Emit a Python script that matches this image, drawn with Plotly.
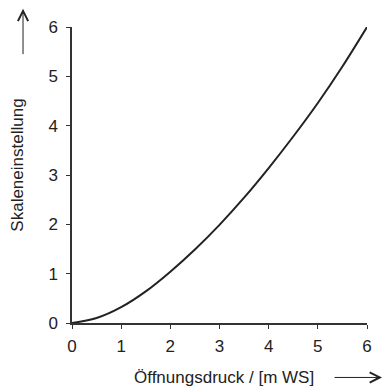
import plotly.graph_objects as go

# Data
pressure = [0, 0.5, 1, 1.5, 2, 2.5, 3, 3.5, 4, 4.5, 5, 5.5, 6]
scale_setting = [0, 0.10, 0.32, 0.64, 1.04, 1.49, 1.99, 2.54, 3.14, 3.78, 4.46, 5.20, 6.0]
tick_vals = [0, 1, 2, 3, 4, 5, 6]
tick_text = ["0", "1", "2", "3", "4", "5", "6"]

x_title = "Öffnungsdruck / [m WS]"
y_title = "Skaleneinstellung"

FONT = "Liberation Sans, Arial, sans-serif"
INK = "#222222"

fig = go.Figure()
fig.add_trace(go.Scatter(
    x=pressure, y=scale_setting, mode="lines",
    line=dict(color=INK, width=2, shape="spline", smoothing=1.0),
    showlegend=False, hoverinfo="skip",
))

axis_common = dict(
    showgrid=False, zeroline=False, showline=True, linecolor="#333333", linewidth=1.5,
    ticks="outside", ticklen=4, tickwidth=1, tickcolor="#333333",
    tickvals=tick_vals, ticktext=tick_text,
    tickfont=dict(family=FONT, size=17, color=INK),
    range=[0, 6], fixedrange=True,
)

fig.update_layout(
    width=386, height=389,
    margin=dict(l=72, r=19, t=27, b=66),
    paper_bgcolor="white", plot_bgcolor="white",
    font=dict(family=FONT, color=INK),
    xaxis=dict(**axis_common, ticklabelstandoff=3),
    yaxis=dict(**axis_common, ticklabelstandoff=5),
)

# Axis titles
fig.add_annotation(text=x_title, xref="paper", yref="paper",
                   x=0.515, y=-0.184, xanchor="center", yanchor="middle",
                   showarrow=False, font=dict(family=FONT, size=17, color=INK))
fig.add_annotation(text=y_title, xref="paper", yref="paper",
                   x=-0.186, y=0.532, xanchor="center", yanchor="middle",
                   showarrow=False, textangle=-90,
                   font=dict(family=FONT, size=17, color=INK))

# Direction arrows
fig.add_annotation(text="", xref="paper", yref="paper",
                   x=1.051, y=-0.184, ax=-49, ay=0,
                   showarrow=True, arrowhead=5, arrowsize=2, arrowwidth=1,
                   arrowcolor=INK)
fig.add_annotation(text="", xref="paper", yref="paper",
                   x=-0.166, y=1.062, ax=0, ay=47,
                   showarrow=True, arrowhead=5, arrowsize=2, arrowwidth=1,
                   arrowcolor=INK)

fig.write_html("out.html", config={"displayModeBar": False},
               post_script="document.body.style.margin='0';document.body.style.padding='0';")
